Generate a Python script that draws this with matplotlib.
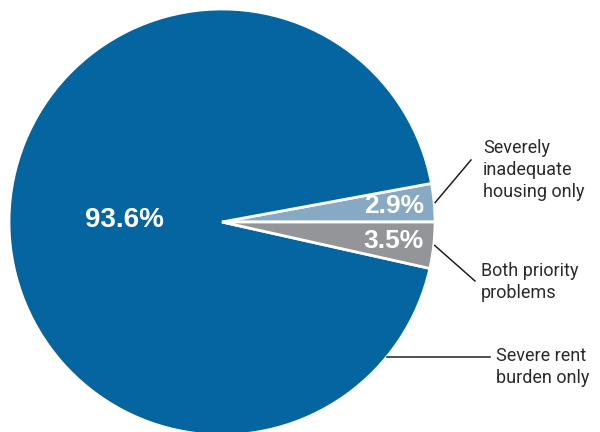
import numpy as np
import matplotlib

matplotlib.use("Agg")
import matplotlib.pyplot as plt

# Shares of households with worst case needs, by problem type
categories = ["Severely\ninadequate\nhousing only", "Severe rent\nburden only", "Both priority\nproblems"]
shares = [2.9, 93.6, 3.5]
colors = ["#87a9c4", "#0565a1", "#939598"]

W, H = 600, 432
fig = plt.figure(figsize=(W / 100, H / 100), dpi=100)
ax = fig.add_axes([0, 0, 1, 1])

cx, cy, r = 222, H - 222, 213
wedges, _ = ax.pie(
    shares,
    colors=colors,
    startangle=0,
    counterclock=True,
    center=(cx, cy),
    radius=r,
    wedgeprops={"edgecolor": "white", "linewidth": 2},
)
ax.set_xlim(0, W)
ax.set_ylim(0, H)
ax.set_aspect("equal")
ax.axis("off")


def point(angle_deg, frac):
    a = np.radians(angle_deg)
    return cx + frac * r * np.cos(a), cy + frac * r * np.sin(a)


# percentage labels inside the slices
pct_dist = [0.81, 0.46, 0.81]
pct_size = [19, 20, 19]
for wedge, share, dist, size in zip(wedges, shares, pct_dist, pct_size):
    mid = (wedge.theta1 + wedge.theta2) / 2
    x, y = point(mid, dist)
    ax.text(x, y, f"{share}%", color="white", fontsize=size, fontweight="bold",
            family="Liberation Sans", ha="center", va="center")

# outside callouts
text_kw = dict(fontsize=13, color="#2a2a2a", family="Roboto",
               ha="left", va="top", linespacing=1.3)
line_kw = dict(color="#231f20", lw=1.1)

# severely inadequate housing
w = wedges[0]
sx, sy = point((w.theta1 + w.theta2) / 2, 1.005)
ax.plot([sx, 471], [sy, H - 160], **line_kw)
ax.text(483, H - 139, categories[0], **text_kw)

# both priority problems
w = wedges[2]
sx, sy = point((w.theta1 + w.theta2) / 2, 1.005)
ax.plot([sx, 475], [sy, H - 281], **line_kw)
ax.text(481, H - 262, categories[2], **text_kw)

# severe rent burden
sx, sy = point(-39.3, 1.0)
ax.plot([sx, 490], [sy, sy], **line_kw)
ax.text(496, H - 347, categories[1], **text_kw)

fig.savefig("out.png", dpi=100)
